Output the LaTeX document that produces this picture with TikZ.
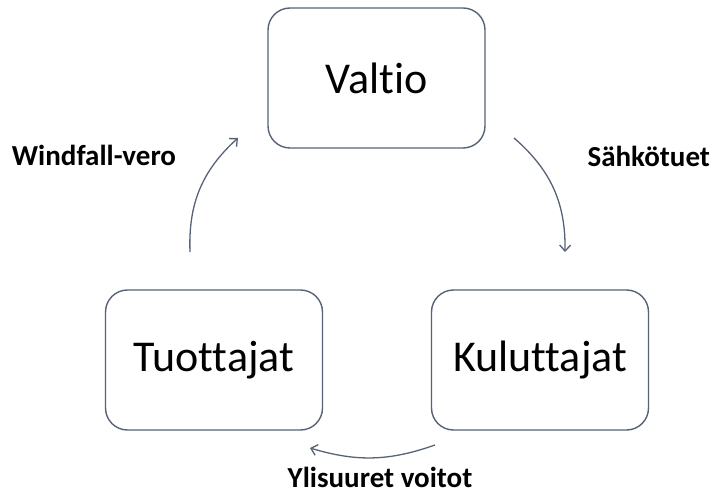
\documentclass[tikz,border=0pt]{standalone}
\usepackage{fontspec}
\setmainfont{Carlito}[Ligatures=NoCommon]
\usetikzlibrary{positioning,arrows.meta}
\definecolor{edgegray}{RGB}{88,98,118}

\tikzset{
  box/.style={draw=edgegray, line width=1.4pt, rounded corners=22pt,
    minimum width=217pt, minimum height=140pt,
    font=\fontsize{44}{50}\selectfont},
  flow/.style={-{Straight Barb[length=6pt,width=11pt]}, draw=edgegray, line width=1.3pt},
  lbl/.style={font=\bfseries\fontsize{29}{34}\selectfont}
}

\begin{document}
\begin{tikzpicture}[x=1pt,y=1pt]
  \useasboundingbox (0,0) rectangle (719,493);

  % boxes
  \node[box] (valtio) at (376.5,415) {Valtio};
  \node[box] (tuottajat) at (214,133) {Tuottajat};
  \node[box] (kuluttajat) at (540,133) {Kuluttajat};

  % arrow ends
  \coordinate (tuotUp) at (190,241);
  \coordinate (valtIn) at (238,355);
  \coordinate (valtOut) at (514,355);
  \coordinate (kulIn) at (565,241);
  \coordinate (kulOut) at (435,48);
  \coordinate (tuotIn) at (310,45);

  \draw[flow] (tuotUp) to[bend left=25] (valtIn);
  \draw[flow] (valtOut) to[bend left=25] (kulIn);
  \draw[flow] (kulOut) to[bend left=18] (tuotIn);

  % labels
  \node[lbl] (vero) at (94,338) {Windfall-vero};
  \node[lbl, anchor=west] (tuet) at (584,337) {Sähkötuet};
  \node[lbl] (voitot) at (380,16) {Ylisuuret voitot};
\end{tikzpicture}
\end{document}
